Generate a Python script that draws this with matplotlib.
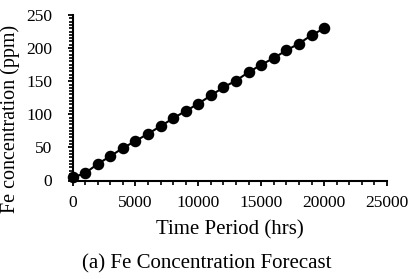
import matplotlib
matplotlib.use("Agg")
import matplotlib.pyplot as plt
from matplotlib.ticker import MultipleLocator

time_hrs = [0, 1000, 2000, 3000, 4000, 5000, 6000, 7000, 8000, 9000, 10000,
            11000, 12000, 13000, 14000, 15000, 16000, 17000, 18000, 19000, 20000]
fe_ppm = [4.6, 11, 25, 36.6, 49, 59.5, 70.6, 82, 94, 105, 116,
          128.5, 140.7, 151, 163.6, 174.8, 185, 196.6, 206.8, 219.5, 229.7]

xlabel = "Time Period (hrs)"
ylabel = "Fe concentration (ppm)"
caption = "(a) Fe Concentration Forecast"

plt.rcParams['font.family'] = ['Liberation Serif', 'DejaVu Serif']
tick_fs = 12.5
label_fs = 15

W, H = 413, 279
fig = plt.figure(figsize=(W / 100, H / 100), dpi=100)
x0, x1 = 72.5, 387.0
y0, y1 = 180.5, 15.0
ax = fig.add_axes([x0 / W, 1 - y0 / H, (x1 - x0) / W, (y0 - y1) / H])
ax.plot(time_hrs, fe_ppm, color='black', lw=1.5, marker='o', ms=7.3, mew=1,
        markerfacecolor='black', markeredgecolor='black', clip_on=False, zorder=3)

ax.set_xlim(0, 25000)
ax.set_ylim(0, 250)
ax.xaxis.set_major_locator(MultipleLocator(5000))
ax.xaxis.set_minor_locator(MultipleLocator(1000))
ax.yaxis.set_major_locator(MultipleLocator(50))
ax.yaxis.set_minor_locator(MultipleLocator(5))

for s in ['top', 'right']:
    ax.spines[s].set_visible(False)
for s in ['left', 'bottom']:
    ax.spines[s].set_linewidth(1.5)
    ax.spines[s].set_color('black')

ax.tick_params(which='major', direction='out', length=3.5, width=1.3, labelsize=tick_fs)
ax.tick_params(which='minor', direction='out', length=2.8, width=1.2)
ax.tick_params(axis='x', which='major', pad=7)
ax.tick_params(axis='y', which='major', pad=11)

ax.set_xlabel(xlabel, fontsize=label_fs, va='center', ha='center')
ax.xaxis.set_label_coords(0.5, (y0 - 230) / (y0 - y1))
ax.set_ylabel(ylabel, fontsize=14.5, va='center', ha='center')
ax.yaxis.set_label_coords((10.5 - x0) / (x1 - x0), (y0 - 119) / (y0 - y1))
fig.text(0.5, 1 - 264 / H, caption, ha='center', va='center', fontsize=label_fs)

fig.savefig("out.png", dpi=100)
